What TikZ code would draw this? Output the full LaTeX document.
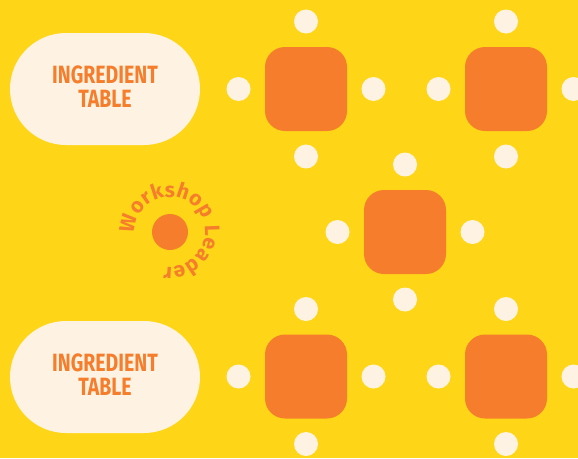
\documentclass[tikz,border=0pt]{standalone}
\usepackage{fontspec}
\setmainfont{Fira Sans}
\usetikzlibrary{decorations.text}
\definecolor{bgyellow}{RGB}{254,214,23}
\definecolor{tableorange}{RGB}{245,125,44}
\definecolor{cream}{RGB}{254,243,226}
\tikzset{
  tablebox/.style={rectangle, fill=tableorange, minimum width=82pt, minimum height=84pt, rounded corners=20pt, inner sep=0pt},
  seat/.style={circle, fill=cream, minimum size=24pt, inner sep=0pt},
  pill/.style={rectangle, fill=cream, minimum width=190pt, minimum height=112pt, rounded corners=56pt, inner sep=0pt},
  pilltext/.style={text=tableorange, inner sep=0pt, font=\bfseries\fontsize{25}{24}\selectfont},
  leaderdot/.style={circle, fill=tableorange, minimum size=36pt, inner sep=0pt}
}
\newcommand\worktable[3]{%
  \node[tablebox] (#1) at (#2,#3) {};
  \node[seat] (#1-n) at ([yshift=67.5pt]#1.center) {};
  \node[seat] (#1-s) at ([yshift=-67.5pt]#1.center) {};
  \node[seat] (#1-w) at ([xshift=-67.5pt]#1.center) {};
  \node[seat] (#1-e) at ([xshift=67.5pt]#1.center) {};
}
\begin{document}
\begin{tikzpicture}[x=1pt,y=1pt]
\fill[bgyellow] (0,0) rectangle (578,-458);
\useasboundingbox (0,0) rectangle (578,-458);
\clip (0,0) rectangle (578,-458);
% ingredient tables
\node[pill] (p1) at (105,-89) {};
\node[pilltext] (p1t) at (105,-90) {\scalebox{0.78}[1]{\begin{tabular}{@{}c@{}}INGREDIENT\\TABLE\end{tabular}}};
\node[pill] (p2) at (105,-377) {};
\node[pilltext] (p2t) at (105,-378) {\scalebox{0.78}[1]{\begin{tabular}{@{}c@{}}INGREDIENT\\TABLE\end{tabular}}};
% work tables
\worktable{ta}{306}{-89}
\worktable{tb}{506}{-89}
\worktable{tc}{405}{-232}
\worktable{td}{306}{-376.5}
\worktable{te}{506}{-376.5}
% workshop leader
\node[leaderdot] (lead) at (170,-232) {};
\path[decorate, decoration={text along path, text align=fit to path,
  text={|\bfseries\fontsize{21}{21}\selectfont\color{tableorange}|Workshop Leader}}]
  ([shift={(182:35)}]lead.center) arc[start angle=182, end angle=-100, radius=35];
\end{tikzpicture}
\end{document}
